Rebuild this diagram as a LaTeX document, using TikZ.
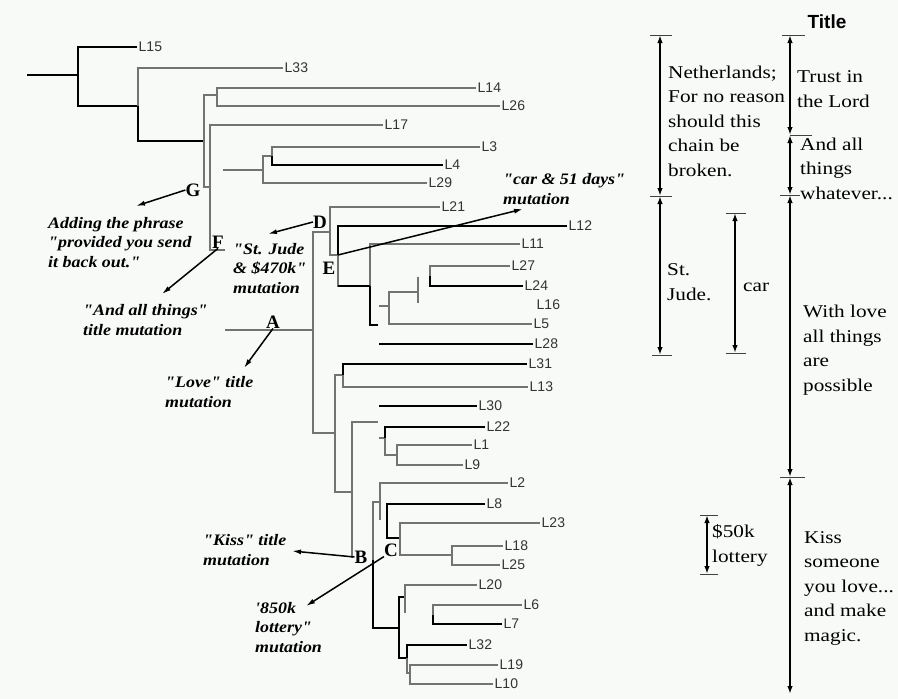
\documentclass[tikz,border=0pt]{standalone}
\usepackage{fontspec}
\setmainfont{Liberation Serif}
\newfontfamily\leaffont{Liberation Sans}
\newfontfamily\notefont{Liberation Serif}[FakeStretch=1.12]
\newfontfamily\sidefont{Liberation Serif}[FakeStretch=1.18]
\usetikzlibrary{arrows.meta}
\definecolor{paper}{RGB}{248,250,248}
\definecolor{branchgray}{RGB}{115,115,115}
\tikzset{
  thinbr/.style={draw=branchgray, line width=1.1pt},
  thickbr/.style={draw=black, line width=1.7pt},
  leaf/.style={anchor=west, inner sep=1.5pt, text=black!80,
    font=\leaffont\fontsize{14}{14}\selectfont},
  letter/.style={inner sep=0pt, font=\bfseries\fontsize{19}{19}\selectfont},
  note/.style={anchor=base west, align=left, inner sep=0pt,
    font=\notefont\bfseries\itshape\fontsize{16}{19.5}\selectfont},
  side/.style={anchor=base west, align=left, inner sep=0pt,
    font=\sidefont\fontsize{18}{24.5}\selectfont},
  pointer/.style={line width=1.5pt, -{Latex[length=9pt,width=5pt]}},
  span/.style={line width=1.8pt,
    {Latex[length=8pt,width=5.5pt]}-{Latex[length=8pt,width=5.5pt]}},
  tick/.style={draw=black!75, line width=1pt},
}
\begin{document}
\begin{tikzpicture}[x=1pt,y=-1pt]
  \useasboundingbox[fill=paper] (0,0) rectangle (898,699);
  % leaves
  \foreach \name/\xe/\ye in {L15/137/47, L33/283/68, L14/476/88, L26/500/106,
      L17/383/125, L3/480/147, L4/443/165, L29/427/183, L21/440/207,
      L12/567/226, L11/520/244, L27/510/266, L24/523/286, L16/535/305,
      L5/532/324, L28/533/344, L31/527/364, L13/528/387, L30/477/406,
      L22/485/427, L1/472/445, L9/463/465, L2/508/483, L8/485/504,
      L23/540/523, L18/503/546, L25/500/565, L20/477/585, L6/522/605,
      L7/502/624, L32/467/645, L19/498/665, L10/493/684}
    \node[leaf] (\name) at (\xe,\ye) {\name};

  % upper part of the tree
  \coordinate (root) at (27,75);
  \coordinate (n1) at (78,75);
  \coordinate (n2) at (138,106);
  \coordinate (n3) at (204,141);
  \coordinate (n4) at (217,95);
  \coordinate (nG) at (210,187);
  \coordinate (nF) at (210,250);
  \coordinate (nFr) at (225,250);
  \draw[thickbr] (root) -- (n1);
  \draw[thickbr] (L15.west) -| (n1) |- (n2);
  \draw[thinbr] (L33.west) -| (n2);
  \draw[thickbr] (n2) |- (n3);
  \draw[thinbr] (n4) -| (n3) |- (nG);
  \draw[thinbr] (L14.west) -| (n4) |- (L26.west);
  \draw[thinbr] (L17.west) -| (nG) -- (nF) -- (nFr);

  \coordinate (s5) at (223,170);
  \coordinate (n5) at (263,170);
  \coordinate (n6) at (272,156);
  \draw[thinbr] (s5) -- (n5);
  \draw[thinbr] (n6) -| (n5) |- (L29.west);
  \draw[thinbr] (L3.west) -| (n6);
  \draw[thickbr] (n6) |- (L4.west);

  % A, D and E
  \coordinate (sA) at (225,330);
  \coordinate (nA) at (313,330);
  \coordinate (nD) at (330,232);
  \coordinate (nK) at (335,433);
  \coordinate (nE) at (338,255);
  \coordinate (n7) at (370,286);
  \coordinate (n7b) at (378,325);
  \draw[thinbr] (sA) -- (nA);
  \draw[thinbr] (nD) -| (nA) |- (nK);
  \draw[thinbr] (L21.west) -| (nD) |- (nE);
  \draw[thickbr] (L12.west) -| (nE);
  \draw[thinbr] (nE) |- (n7);
  \draw[thinbr] (L11.west) -| (n7);
  \draw[thickbr] (n7) |- (n7b);
  \draw[thickbr] (nE |- n7) -- (n7);

  \coordinate (s8) at (379,306);
  \coordinate (n8) at (389,306);
  \coordinate (n8t) at (418,292);
  \coordinate (bar1) at (418,277);
  \coordinate (bar2) at (418,303);
  \coordinate (n9) at (430,276);
  \draw[thinbr] (s8) -- (n8);
  \draw[thinbr] (n8t) -| (n8) |- (L5.west);
  \draw[thinbr] (bar1) -- (bar2);
  \draw[thinbr] (L27.west) -| (n9);
  \draw[thickbr] (n9) |- (L24.west);

  \coordinate (s28) at (379,344);
  \coordinate (s30) at (379,406);
  \draw[thickbr] (s28) -- (L28.west);
  \draw[thickbr] (s30) -- (L30.west);

  % middle part
  \coordinate (n10) at (343,375);
  \coordinate (nB) at (352,492);
  \coordinate (nBb) at (352,558);
  \coordinate (n11) at (378,422);
  \draw[thinbr] (n10) -| (nK) |- (nB);
  \draw[thickbr] (L31.west) -| (n10);
  \draw[thinbr] (n10) |- (L13.west);
  \draw[thinbr] (n11) -| (nB) -- (nBb);

  \coordinate (s12) at (379,438);
  \coordinate (n12) at (385,438);
  \coordinate (n13) at (397,455);
  \draw[thinbr] (s12) -- (n12);
  \draw[thickbr] (L22.west) -| (n12);
  \draw[thinbr] (n12) |- (n13);
  \draw[thinbr] (L1.west) -| (n13) |- (L9.west);

  % C part
  \coordinate (nCt) at (380,502);
  \coordinate (nC) at (373,560);
  \coordinate (nCb) at (399,628);
  \coordinate (n14) at (380,520);
  \coordinate (n15) at (387,538);
  \coordinate (n16) at (400,538);
  \coordinate (n17) at (452,555);
  \draw[thinbr] (nCt) -| (nC);
  \draw[thickbr] (nC) |- (nCb);
  \draw[thinbr] (L2.west) -| (n14);
  \draw[thickbr] (L8.west) -| (n15) -- (n16);
  \draw[thinbr] (L23.west) -| (n16) |- (n17);
  \draw[thinbr] (L18.west) -| (n17) |- (L25.west);

  \coordinate (n18) at (405,597);
  \coordinate (n18b) at (405,613);
  \coordinate (n19) at (407,658);
  \coordinate (n20) at (433,615);
  \coordinate (n21) at (410,673);
  \draw[thickbr] (n18) -| (nCb) |- (n19);
  \draw[thinbr] (L20.west) -| (n18b);
  \draw[thinbr] (L6.west) -| (n20);
  \draw[thickbr] (n20) |- (L7.west);
  \draw[thickbr] (L32.west) -| (n19);
  \draw[thinbr] (n19) |- (n21);
  \draw[thinbr] (L19.west) -| (n21) |- (L10.west);

  % mutation letters
  \node[letter] (G) at (193,190) {G};
  \node[letter] (F) at (218,242) {F};
  \node[letter] (A) at (273,322) {A};
  \node[letter] (D) at (320,222) {D};
  \node[letter] (E) at (329,268) {E};
  \node[letter] (B) at (361,557) {B};
  \node[letter] (C) at (391,550) {C};

  \coordinate (tipG) at (136,206);
  \coordinate (tipF) at (162,294);
  \coordinate (tipA) at (244,368);
  \coordinate (tipD) at (268,234);
  \coordinate (tipE) at (523,209);
  \coordinate (tipB) at (292,551);
  \coordinate (tipC) at (306,606);
  \draw[pointer] (G.west) -- (tipG);
  \draw[pointer] (F.south) -- (tipF);
  \draw[pointer] (A.south) -- (tipA);
  \draw[pointer] (D.west) -- (tipD);
  \draw[pointer] (nE) -- (tipE);
  \draw[pointer] (B.west) -- (tipB);
  \draw[pointer] (C.south west) -- (tipC);

  % notes (placed at the baseline of their last line)
  \node[note] (phrase) at (48,267) {Adding the phrase\\"provided you send\\it back out."};
  \node[note] (things) at (83,335) {"And all things"\\title mutation};
  \node[note] (love) at (165,407) {"Love" title\\mutation};
  \node[note] (jude) at (233,293) {"St. Jude\\\& \$470k"\\mutation};
  \node[note] (carday) at (503,204) {"car \& 51 days"\\mutation};
  \node[note] (kiss) at (203,565) {"Kiss" title\\mutation};
  \node[note] (lotto) at (255,652) {'850k\\lottery"\\mutation};

  % letter sections
  \node[font=\leaffont\bfseries\fontsize{19}{19}\selectfont, inner sep=0pt] (title) at (827,22) {Title};

  \coordinate (a1) at (660,35);
  \coordinate (a2) at (660,196);
  \coordinate (a3) at (660,355);
  \coordinate (b1) at (735,213);
  \coordinate (b2) at (735,353);
  \coordinate (c1) at (790,35);
  \coordinate (c2) at (790,135);
  \coordinate (c3) at (790,195);
  \coordinate (c4) at (790,477);
  \coordinate (c5) at (790,694);
  \coordinate (d1) at (707,515);
  \coordinate (d2) at (707,574);

  \draw[span] (a1) -- (a2);
  \draw[span] (a2) -- (a3);
  \draw[span] (b1) -- (b2);
  \draw[span] (c1) -- (c2);
  \draw[span] (c2) -- (c3);
  \draw[span] (c3) -- (c4);
  \draw[span] (c4) -- (c5);
  \draw[span] (d1) -- (d2);

  \draw[tick] ([xshift=-10pt]a1) -- ([xshift=12pt]a1);
  \draw[tick] ([xshift=-10pt]a2) -- ([xshift=12pt]a2);
  \draw[tick] ([xshift=-8pt]a3) -- ([xshift=12pt]a3);
  \draw[tick] ([xshift=-9pt]b1) -- ([xshift=11pt]b1);
  \draw[tick] ([xshift=-9pt]b2) -- ([xshift=11pt]b2);
  \draw[tick] ([xshift=-8pt]c1) -- ([xshift=15pt]c1);
  \draw[tick] (c2) -- ([xshift=22pt]c2);
  \draw[tick] ([xshift=-10pt]c3) -- ([xshift=10pt]c3);
  \draw[tick] ([xshift=-10pt]c4) -- ([xshift=15pt]c4);
  \draw[tick] ([xshift=-7pt]d1) -- ([xshift=11pt]d1);
  \draw[tick] ([xshift=-7pt]d2) -- ([xshift=11pt]d2);

  \node[side] (neth) at (668,176) {Netherlands;\\For no reason\\should this\\chain be\\broken.};
  \node[side] (stjude) at (667,300) {St.\\Jude.};
  \node[side] (car) at (743,291) {car};
  \node[side] (fifty) at (712,562) {\$50k\\lottery};
  \node[side] (trust) at (797,107) {Trust in\\the Lord};
  \node[side] (andall) at (800,199) {And all\\things\\whatever...};
  \node[side] (withlove) at (803,391) {With love\\all things\\are\\possible};
  \node[side] (kisssome) at (804,641) {Kiss\\someone\\you love...\\and make\\magic.};
\end{tikzpicture}
\end{document}
